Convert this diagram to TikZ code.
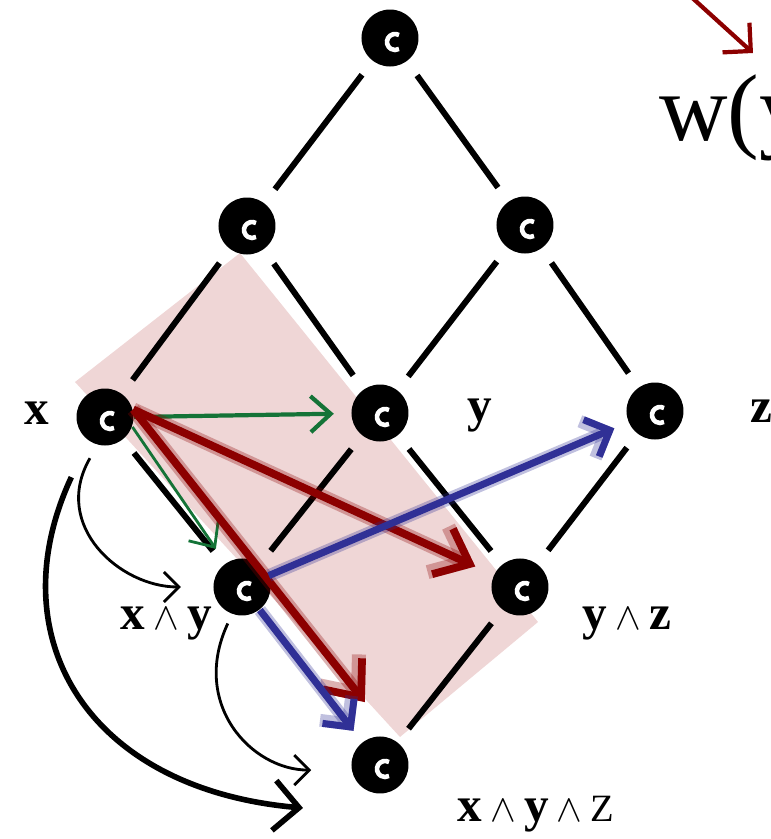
\documentclass[tikz,border=0pt]{standalone}
\usepackage{fontspec}
\setmainfont{Liberation Serif}
\usetikzlibrary{arrows.meta, positioning}

\definecolor{boxpink}{RGB}{239,214,214}
\definecolor{meetred}{RGB}{140,0,0}
\definecolor{meetblue}{RGB}{48,48,150}
\definecolor{meetgreen}{RGB}{20,115,55}

\newcommand{\meetop}{\,{\fontsize{11}{13}\selectfont$\wedge$}\,}

\begin{document}
\begin{tikzpicture}[
    every node/.style={font=\fontsize{14}{17}\selectfont\bfseries},
    ball/.style={circle, fill=black, minimum size=5.7mm, inner sep=0pt,
        path picture={\draw[white, line width=1.3pt] (path picture bounding box.center)
            ++(0.05,-0.04) ++(60:0.08) arc[start angle=60, end angle=300, radius=0.08];}},
    latticeline/.style={line width=1.7pt, shorten >=1.7mm, shorten <=1.7mm},
    greenarrow/.style={meetgreen, -{Straight Barb[length=2mm, width=3.6mm]}},
    redarrow/.style={meetred, line width=2.2pt, -{Straight Barb[length=3mm, width=5mm]},
        preaction={draw, meetred, opacity=0.3, line width=4pt}},
    bluearrow/.style={meetblue, line width=2pt, -{Straight Barb[length=2mm, width=4mm]},
        preaction={draw, meetblue, opacity=0.3, line width=3.6pt}},
    curvearrow/.style={line width=0.8pt, -{Straight Barb[length=1.5mm, width=3mm]}}
]
\useasboundingbox (0,0) rectangle (7.71,8.39);

% Highlighted interval
\fill[boxpink] (0.75,4.57) -- (2.40,5.86) -- (5.38,2.17) -- (4.00,1.02) -- cycle;

% Lattice elements
\node[ball] (top) at (3.90,8.01) {};
\node[ball] (lu)  at (2.47,6.13) {};
\node[ball] (ru)  at (5.25,6.14) {};
\node[ball] (x)   at (1.05,4.22) {};
\node[ball] (y)   at (3.80,4.26) {};
\node[ball] (z)   at (6.55,4.28) {};
\node[ball] (xy)  at (2.42,2.52) {};
\node[ball] (yz)  at (5.20,2.52) {};
\node[ball] (xyz) at (3.80,0.74) {};

% Order relations
\foreach \a/\b in {top/lu, top/ru, lu/x, lu/y, ru/y, ru/z, x/xy, y/xy, y/yz, z/yz, xy/xyz, yz/xyz}
    \draw[latticeline] (\a) -- (\b);

% Labels
\node[anchor=base west] (lx)   at (0.12,4.14) {x};
\node[anchor=base west] (ly)   at (4.55,4.18) {y};
\node[anchor=base west] (lz)   at (7.38,4.17) {z};
\node[anchor=base west] (lxy)  at (1.08,2.09) {x\meetop y};
\node[anchor=base west] (lyz)  at (5.70,2.09) {y\meetop z};
\node[anchor=base west] (lxyz) at (4.45,0.17) {x\meetop y\meetop{\mdseries\fontsize{11}{13}\selectfont Z}};
\node[anchor=base west, font=\fontsize{27}{31}\selectfont] (wlabel) at (6.47,6.99) {w(y};

% Green arrows
\draw[greenarrow, line width=1.2pt, shorten >=1.7mm] (x.east) -- (y);
\draw[greenarrow, line width=0.8pt, shorten >=1.7mm] (x.-20) -- (xy);

% Red arrows
\draw[redarrow, shorten >=2mm] (x.15) -- (yz);
\draw[redarrow, shorten >=4.8mm] (x.15) -- (xyz.60);

% Blue arrows
\draw[bluearrow, shorten >=1.5mm] (xy) -- (z);
\draw[bluearrow, shorten >=1.4mm] (xy) -- (xyz);

% Curved arrows
\coordinate (bigtip) at (3.03,0.31);
\draw[curvearrow, shorten <=1.5mm, shorten >=3.2mm] (x.255) to[out=240, in=180, looseness=1.3] (xy.west);
\draw[curvearrow, shorten <=1mm, shorten >=4mm] (xy.250) to[out=245, in=180, looseness=1.3] (xyz.190);
\draw[line width=1.6pt, -{Straight Barb[length=2.5mm, width=5mm]}, shorten <=4mm] (x.235) to[out=245, in=175, looseness=1.3] (bigtip);

% Pointer to w
\coordinate (wfrom) at (6.88,8.45);
\coordinate (wto) at (7.53,7.86);
\draw[meetred, line width=1.2pt, -{Straight Barb[length=2mm, width=4mm]}] (wfrom) -- (wto);
\end{tikzpicture}
\end{document}
